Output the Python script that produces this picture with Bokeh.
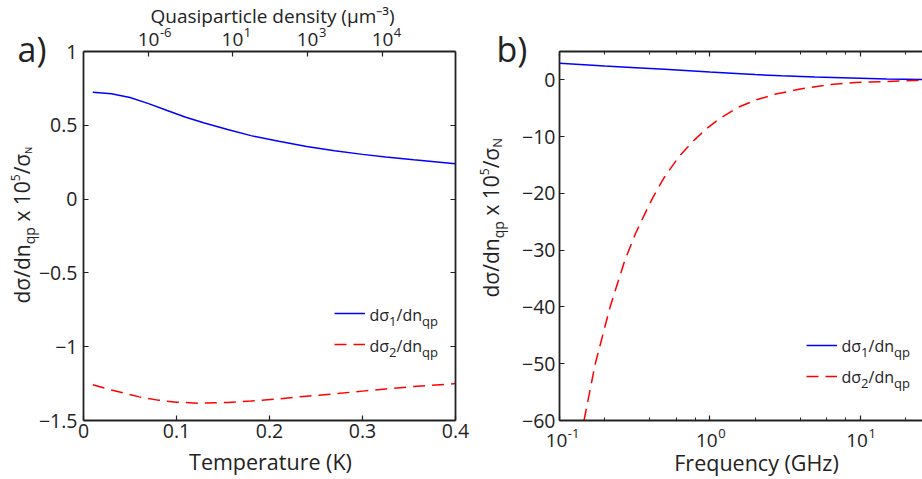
import math

from bokeh.embed import file_html
from bokeh.layouts import row
from bokeh.models import (FixedTicker, Label, Legend, LegendItem, LinearAxis,
                          LogAxis, LogTicker, Range1d)
from bokeh.plotting import figure
from bokeh.resources import INLINE

FONT = "Open Sans"
INK = "#222222"
BLUE = "#0000ff"
RED = "#ff0000"
NBSP = "\u00a0"

# ---- panel a: response vs. temperature ----
temp1_K = [0.01, 0.03, 0.05, 0.07, 0.09, 0.11, 0.13, 0.155, 0.18, 0.21,
           0.24, 0.27, 0.30, 0.325, 0.355, 0.40]
dsigma1_temp = [0.724, 0.714, 0.688, 0.647, 0.600, 0.555, 0.515, 0.471, 0.430,
                0.392, 0.357, 0.328, 0.303, 0.285, 0.266, 0.239]
temp2_K = [0.01, 0.03, 0.06, 0.08, 0.10, 0.125, 0.155, 0.18, 0.21, 0.24,
           0.27, 0.30, 0.325, 0.355, 0.40]
dsigma2_temp = [-1.258, -1.293, -1.340, -1.362, -1.376, -1.383, -1.378, -1.368,
                -1.354, -1.335, -1.319, -1.301, -1.286, -1.270, -1.250]

temp_ticks = [0, 0.1, 0.2, 0.3, 0.4]
temp_tick_labels = ["0", "0.1", "0.2", "0.3", "0.4"]
ya_ticks = [-1.5, -1, -0.5, 0, 0.5, 1]
ya_tick_labels = ["\u22121.5", "\u22121", "\u22120.5", "0", "0.5", "1"]
# temperatures at which the quasiparticle density reaches each labelled decade
density_tick_temps = [0.0699, 0.1602, 0.2409, 0.3215]
density_tick_exps = ["-6", "1", "3", "4"]

# ---- panel b: response vs. frequency ----
freq1_GHz = [0.1, 0.2, 0.3, 0.5, 1.0, 1.6, 2.0, 3.0, 5.0, 10.0, 15.0, 26.0]
dsigma1_freq = [2.92, 2.45, 2.20, 1.87, 1.40, 1.10, 0.93, 0.72, 0.49, 0.28,
                0.15, 0.05]
freq2_GHz = [0.1455, 0.173, 0.217, 0.272, 0.320, 0.362, 0.420, 0.500, 0.620,
             0.760, 0.95, 1.15, 1.55, 2.05, 2.75, 4.0, 6.2, 9.3, 14.0, 22.3,
             26.0]
dsigma2_freq = [-60, -50, -40, -31.8, -27.1, -24.1, -20.6, -17.1, -13.6, -11.0,
                -8.6, -6.9, -4.8, -3.5, -2.5, -1.6, -0.83, -0.47, -0.30, -0.12,
                -0.10]
yb_ticks = [-60, -50, -40, -30, -20, -10, 0]
yb_tick_labels = ["\u221260", "\u221250", "\u221240", "\u221230", "\u221220",
                  "\u221210", "0"]
freq_ticks = [0.1, 1, 10]
freq_tick_exps = ["-1", "0", "1"]

# approximate advance widths (per 1000 em) used to chain text runs
ADV = {"d": 613, "\u03c3": 612, "/": 371, "n": 613, "q": 613, "p": 613,
       NBSP: 260, " ": 260, "x": 520, "N": 742, "1": 572, "2": 572, "5": 572,
       "0": 572}

H = 479
A_W, B_W = 475, 447
BOX_TOP, BOX_BOTTOM = 51, 420        # plot box edges, px from the top
A_BOX_LEFT, A_BOX_RIGHT = 83, 455    # panel a box, px within its canvas
B_BOX_LEFT = 84                      # panel b box runs to the canvas edge
B_OFF = A_W                          # page x of panel b's canvas
BASE_FIX = 0.3                       # em offset between requested and drawn baseline
TICK_FONT = "19.5px"


def style_axis(ax, size=TICK_FONT, standoff=5, hide_labels=False, minor=False):
    ax.axis_line_color = INK
    ax.axis_line_width = 1.8
    ax.major_tick_in = 5
    ax.major_tick_out = 0
    ax.major_tick_line_color = INK
    ax.major_tick_line_width = 1.2
    if minor:
        ax.minor_tick_in = 3
        ax.minor_tick_out = 0
        ax.minor_tick_line_color = INK
        ax.minor_tick_line_width = 1
    else:
        ax.minor_tick_line_color = None
    ax.major_label_text_font = FONT
    ax.major_label_text_color = INK
    ax.major_label_text_font_size = size
    ax.major_label_standoff = standoff
    ax.axis_label = None
    if hide_labels:
        ax.major_label_text_alpha = 0


def put(p, text, cx, cy, size, vertical=False, align="left", data_x=None,
        dx=0.0):
    """Text with its baseline at canvas pixel (cx, cy from the top)."""
    if vertical:
        cx -= BASE_FIX * size
    else:
        cy -= BASE_FIX * size
    if data_x is None:
        x, x_units = cx, "screen"
    else:
        x, x_units = data_x, "data"
    p.add_layout(Label(x=x, y=H - cy, x_units=x_units, y_units="screen",
                       x_offset=dx, text=text, text_font=FONT,
                       text_font_size=f"{size}px", text_color=INK,
                       text_align=align, text_baseline="alphabetic",
                       angle=math.pi / 2 if vertical else 0.0))


def run_width(text, size):
    return sum(ADV.get(c, 580) for c in text) * size / 1000.0


def rich(p, pieces, cx, cy, vertical=False):
    pos = 0.0
    for text, size, shift in pieces:
        if vertical:
            put(p, text, cx + shift, cy - pos, size, vertical=True)
        else:
            put(p, text, cx + pos, cy + shift, size)
        pos += run_width(text, size)


def power_labels(p, ticks, exps, baseline, shift=0.0):
    """'10' centred on each tick with its exponent raised beside it."""
    half = run_width("10", 19) / 2
    for t, e in zip(ticks, exps):
        put(p, "10", 0, baseline, 19, align="center", data_x=t, dx=shift)
        put(p, e, 0, baseline - 9, 13, data_x=t, dx=shift + half + 0.5)


def make_legend(p, renderers, x_left, y_bottom):
    leg = Legend(items=[LegendItem(label=" ", renderers=[r]) for r in renderers],
                 location=(x_left, H - y_bottom), border_line_color=None,
                 background_fill_alpha=0, padding=0, margin=0, spacing=11,
                 glyph_width=31, glyph_height=20, label_height=20,
                 label_width=1, label_standoff=0, label_text_font_size="1px")
    p.add_layout(leg)


def legend_text(p, idx, cx, cy):
    rich(p, [("d\u03c3", 16, 0), (idx, 13, 6), ("/dn", 16, 0), ("qp", 13, 5)],
         cx, cy)


def ylabel(p, cx, cy, n_size):
    rich(p, [("d\u03c3/dn", 21, 0), ("qp", 14, 5), (NBSP + "x" + NBSP + "10", 21, 0),
             ("5", 12, -9), ("/\u03c3", 21, 0), ("N", n_size, 3)],
         cx, cy, vertical=True)


def bare_figure(width, x_range, y_range, **kw):
    p = figure(width=width, height=H, x_range=x_range, y_range=y_range,
               output_backend="svg", toolbar_location=None,
               min_border=0, min_border_left=0, min_border_right=0,
               min_border_top=0, min_border_bottom=0,
               outline_line_color=None, background_fill_color="white",
               border_fill_color="white", **kw)
    p.grid.visible = False
    return p


# ---------------- panel a ----------------
kx = (temp_ticks[-1] - temp_ticks[0]) / (A_BOX_RIGHT - A_BOX_LEFT)
ky = (ya_ticks[-1] - ya_ticks[0]) / (BOX_BOTTOM - BOX_TOP)
pa = bare_figure(
    A_W,
    Range1d(temp_ticks[0] - A_BOX_LEFT * kx,
            temp_ticks[-1] + (A_W - A_BOX_RIGHT) * kx),
    Range1d(ya_ticks[0] - (H - BOX_BOTTOM) * ky, ya_ticks[-1] + BOX_TOP * ky))

x_bounds_a = (temp_ticks[0], temp_ticks[-1])
y_bounds_a = (ya_ticks[0], ya_ticks[-1])

xa = pa.xaxis[0]
xa.ticker = FixedTicker(ticks=temp_ticks)
xa.major_label_overrides = dict(zip(temp_ticks, temp_tick_labels))
xa.fixed_location = ya_ticks[0]
xa.bounds = x_bounds_a
style_axis(xa, standoff=3)

ya = pa.yaxis[0]
ya.ticker = FixedTicker(ticks=ya_ticks)
ya.major_label_overrides = dict(zip(ya_ticks, ya_tick_labels))
ya.fixed_location = temp_ticks[0]
ya.bounds = y_bounds_a
style_axis(ya, standoff=6)

top_a = LinearAxis(ticker=FixedTicker(ticks=density_tick_temps),
                   fixed_location=ya_ticks[-1], bounds=x_bounds_a)
style_axis(top_a, hide_labels=True)
pa.add_layout(top_a, "above")

right_a = LinearAxis(ticker=FixedTicker(ticks=ya_ticks),
                     fixed_location=temp_ticks[-1], bounds=y_bounds_a)
style_axis(right_a, hide_labels=True)
pa.add_layout(right_a, "right")

a1 = pa.line(temp1_K, dsigma1_temp, line_color=BLUE, line_width=1.5)
a2 = pa.line(temp2_K, dsigma2_temp, line_color=RED, line_width=1.5,
             line_dash="12 7")

power_labels(pa, density_tick_temps, density_tick_exps, 45)
make_legend(pa, [a1, a2], 334, 354)
legend_text(pa, "1", 369, 319)
legend_text(pa, "2", 369, 350)

put(pa, "Quasiparticle density (\u03bcm\u207b\u00b3)", 272, 21, 19,
    align="center")
put(pa, "Temperature (K)", 270, 467, 21.5, align="center")
put(pa, "a)", 17, 59, 34)
ylabel(pa, 28, 303, 9)

# ---------------- panel b ----------------
lo, hi = math.log10(freq1_GHz[0]), math.log10(freq1_GHz[-1])
dlog = (hi - lo) / (B_W - B_BOX_LEFT)
y_top_b = yb_ticks[-1] + 5
kyb = (y_top_b - yb_ticks[0]) / (BOX_BOTTOM - BOX_TOP)
pb = bare_figure(
    B_W,
    Range1d(10 ** (lo - B_BOX_LEFT * dlog), freq1_GHz[-1]),
    Range1d(yb_ticks[0] - (H - BOX_BOTTOM) * kyb, y_top_b + BOX_TOP * kyb),
    x_axis_type="log")

x_bounds_b = (freq1_GHz[0], freq1_GHz[-1])
y_bounds_b = (yb_ticks[0], y_top_b)

xb = pb.xaxis[0]
xb.ticker = LogTicker()
xb.fixed_location = yb_ticks[0]
xb.bounds = x_bounds_b
style_axis(xb, hide_labels=True, minor=True)

yb = pb.yaxis[0]
yb.ticker = FixedTicker(ticks=yb_ticks)
yb.major_label_overrides = dict(zip(yb_ticks, yb_tick_labels))
yb.fixed_location = freq1_GHz[0]
yb.bounds = y_bounds_b
style_axis(yb, standoff=4)

top_b = LogAxis(ticker=LogTicker(), fixed_location=y_top_b, bounds=x_bounds_b)
style_axis(top_b, hide_labels=True, minor=True)
pb.add_layout(top_b, "above")

b1 = pb.line(freq1_GHz, dsigma1_freq, line_color=BLUE, line_width=1.5)
b2 = pb.line(freq2_GHz, dsigma2_freq, line_color=RED, line_width=1.5,
             line_dash="12 7")

power_labels(pb, freq_ticks, freq_tick_exps, 446, shift=-3)
make_legend(pb, [b1, b2], 806 - B_OFF, 386)
legend_text(pb, "1", 841 - B_OFF, 350)
legend_text(pb, "2", 841 - B_OFF, 381)

put(pb, "Frequency (GHz)", 756 - B_OFF, 468, 21.5, align="center")
put(pb, "b)", 496 - B_OFF, 59, 34)
ylabel(pb, 497 - B_OFF, 297, 13)

layout = row(pa, pb)
open("out.html", "w").write(file_html(layout, INLINE))
